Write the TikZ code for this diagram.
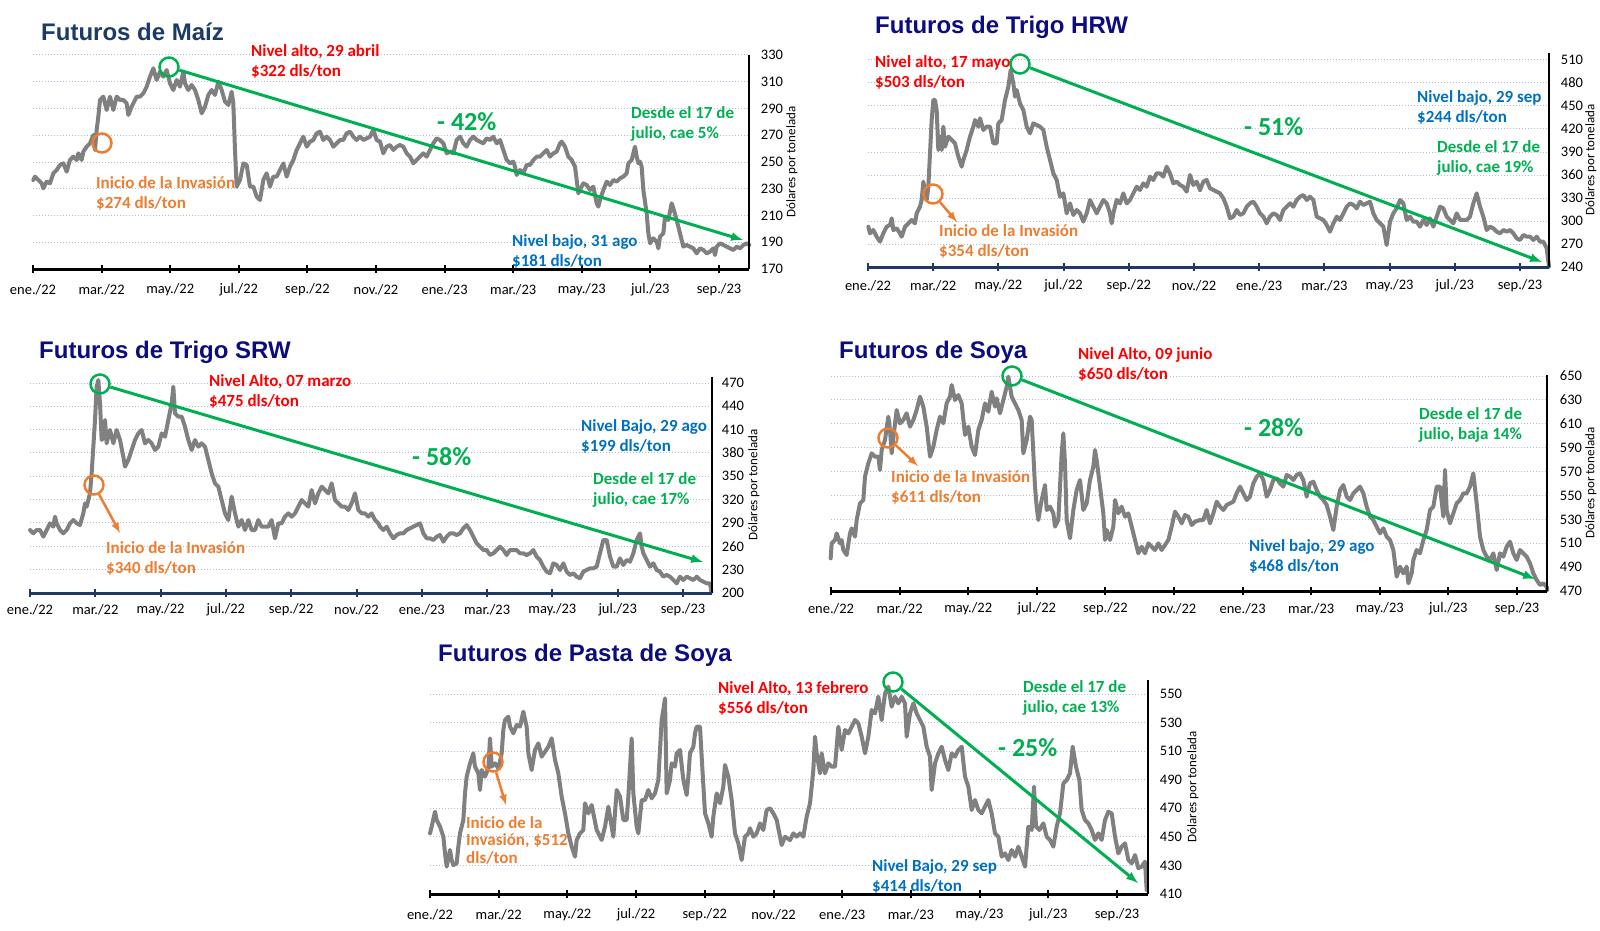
\documentclass[tikz,border=0pt]{standalone}
\usepackage{fontspec}
\setmainfont{Carlito}
\newfontfamily\titulofont{Liberation Sans}
\definecolor{rojo}{RGB}{255,0,0}
\definecolor{azul}{RGB}{0,112,192}
\definecolor{verde}{RGB}{0,176,80}
\definecolor{naranja}{RGB}{237,125,49}
\definecolor{gris}{RGB}{128,128,128}
\definecolor{rejilla}{RGB}{170,190,228}
\definecolor{marino}{RGB}{12,12,128}
\definecolor{pizarra}{RGB}{28,58,104}
\definecolor{ejeazul}{RGB}{31,56,100}
\newcommand\meses{ene./22,mar./22,may./22,jul./22,sep./22,nov./22,ene./23,mar./23,may./23,jul./23,sep./23}
\begin{document}
\begin{tikzpicture}[x=1pt, y=-1pt, >=latex,
  titulo/.style={font=\titulofont\bfseries\fontsize{24}{28}\selectfont, text=marino, anchor=west, inner sep=0},
  nota/.style={font=\bfseries\fontsize{17}{20}\selectfont, align=left, anchor=west, inner sep=0},
  pct/.style={font=\bfseries\fontsize{26}{30}\selectfont, text=verde, anchor=west, inner sep=0},
  mes/.style={font=\fontsize{14.5}{17}\selectfont, inner sep=0},
  valor/.style={font=\fontsize{14.5}{17}\selectfont, inner sep=0},
  unidad/.style={font=\fontsize{13}{15}\selectfont, rotate=90, inner sep=0},
  guia/.style={draw=rejilla, dotted, line width=1pt},
  serie/.style={draw=gris, line width=4pt, line join=round, line cap=round},
  eje/.style={line width=3pt},
  marca/.style={circle, draw, line width=2.5pt, minimum size=19pt, inner sep=0},
  tendencia/.style={draw=verde, line width=3pt, ->},
  flecha/.style={draw=naranja, line width=2.5pt, ->},
]
\useasboundingbox (0,0) rectangle (1600,931);

% maiz
\foreach \i in {0,...,7} \draw[guia] (33,55+26.75*\i) -- (749,55+26.75*\i);
\foreach \v [count=\i from 0] in {330,310,...,170}
  \node[valor] (ma-v\i) at (772,55+26.75*\i) {\v};
\foreach \m [count=\i from 0] in \meses
  \node[mes] (ma-m\i) at (33+68.6*\i,290) {\m};
\node[unidad] (ma-uni) at (792,162) {Dólares por tonelada};
\begin{scope}[scale=1/3]
\draw[serie] plot coordinates {(100,540) (105,530) (115,540) (125,550) (130,565) (140,545) (150,550) (160,520) (170,510) (180,495) (190,490) (200,515) (210,480) (220,470) (230,480) (235,460) (245,480) (250,455) (260,440) (270,430) (280,405) (285,450) (290,390) (295,350) (300,300) (310,290) (320,330) (330,290) (340,330) (350,290) (360,300) (370,300) (380,310) (385,345) (395,320) (400,310) (410,290) (420,290) (430,280) (440,260) (450,230) (460,205) (470,240) (480,215) (490,230) (500,210) (510,250) (520,270) (530,240) (540,260) (550,215) (555,250) (565,270) (575,255) (585,270) (595,300) (605,340) (615,320) (625,285) (635,270) (645,285) (655,245) (665,270) (675,305) (685,315) (695,275) (700,310) (705,450) (710,560) (720,540) (730,490) (740,495) (750,560) (760,560) (770,590) (780,600) (790,540) (800,520) (810,560) (820,530) (830,530) (840,510) (850,490) (860,530) (870,500) (880,480) (890,450) (900,430) (910,410) (920,440) (930,425) (940,420) (950,400) (960,395) (970,420) (980,410) (990,420) (1000,440) (1010,430) (1020,420) (1030,420) (1040,400) (1050,395) (1060,410) (1070,420) (1080,410) (1090,420) (1100,415) (1110,410) (1120,390) (1130,420) (1140,425)};
\end{scope}
\begin{scope}[shift={(380,0)}, scale=1/3]
\draw[serie] plot coordinates {(0,425) (10,460) (20,440) (30,435) (40,450) (50,440) (60,435) (70,440) (80,460) (90,470) (100,490) (110,480) (120,470) (130,460) (140,470) (150,450) (160,430) (170,415) (180,420) (190,430) (200,460) (210,455) (220,460) (230,420) (240,410) (250,430) (260,440) (270,420) (280,410) (290,420) (300,425) (310,430) (320,415) (330,420) (340,410) (350,430) (360,420) (370,450) (380,480) (390,490) (400,485) (405,500) (410,525) (420,510) (430,520) (440,495) (450,495) (460,480) (470,470) (480,470) (490,460) (500,450) (510,470) (520,460) (530,455) (540,430) (545,425) (555,440) (565,470) (575,480) (585,500) (590,540) (595,580) (600,570) (610,550) (620,555) (630,570) (640,560) (650,610) (655,620) (660,600) (670,570) (680,545) (690,555) (700,540) (710,545) (720,535) (730,530) (740,520) (745,490) (755,480) (765,440) (770,470) (775,490) (780,485) (785,500) (790,570) (800,640) (805,700) (810,730) (820,715) (830,725) (835,745) (840,710) (850,700) (855,650) (865,660) (875,610) (880,625) (890,660) (900,700) (910,740) (920,735) (930,740) (940,745) (950,760) (960,745) (970,750) (980,760) (990,755) (1000,745) (1005,765) (1010,740) (1020,730) (1030,735) (1040,740) (1050,745) (1060,750) (1070,740) (1080,745) (1090,735) (1100,730) (1108,735)};
\end{scope}
\draw[line width=2pt] (749,55) -- (749,269);
\draw[eje] (33,269) -- (749,269);
\foreach \i in {0,...,10} \draw[line width=2pt] (33+68.6*\i,265) -- (33+68.6*\i,273);
\node[titulo, text=pizarra] (ma-tit) at (41,32) {Futuros de Maíz};
\node[nota, text=rojo] (ma-alto) at (251,61) {Nivel alto, 29 abril\\\$322 dls/ton};
\node[nota, text=naranja] (ma-inv) at (96,193) {Inicio de la Invasión\\\$274 dls/ton};
\node[pct] (ma-pct) at (437,122) {- 42\%};
\node[nota, text=verde] (ma-desde) at (631,124) {Desde el 17 de\\julio, cae 5\%};
\node[nota, text=azul] (ma-bajo) at (512,251) {Nivel bajo, 31 ago\\\$181 dls/ton};
\node[marca, draw=verde] (ma-max) at (169,67) {};
\node[marca, draw=naranja] (ma-inicio) at (102,143) {};
\coordinate (ma-fin) at (743,240);
\draw[tendencia] (ma-max) -- (ma-fin);

% trigo hrw
\foreach \i in {0,...,8} \draw[guia] (868,60+23*\i) -- (1549,60+23*\i);
\foreach \v [count=\i from 0] in {510,480,...,240}
  \node[valor] (hrw-v\i) at (1572,60+23*\i) {\v};
\foreach \m [count=\i from 0] in \meses
  \node[mes] (hrw-m\i) at (868+65.2*\i,286) {\m};
\node[unidad] (hrw-uni) at (1591,160) {Dólares por tonelada};
\begin{scope}[shift={(820,0)}, scale=1/3]
\draw[serie] plot coordinates {(145,680) (150,700) (160,690) (170,710) (180,725) (190,700) (200,680) (210,675) (215,655) (220,690) (230,685) (240,700) (245,710) (255,680) (265,670) (275,660) (285,670) (290,640) (300,620) (305,600) (310,545) (315,575) (320,600) (325,560) (330,460) (335,360) (340,300) (345,300) (350,330) (355,450) (360,410) (365,450) (370,380) (375,440) (385,410) (395,420) (405,430) (415,470) (425,500) (430,480) (440,450) (450,410) (460,380) (465,360) (475,380) (480,355) (490,390) (500,380) (510,380) (520,430) (530,430) (535,370) (545,360) (555,300) (565,260) (572,210) (580,250) (585,290) (590,270) (600,310) (610,330) (620,380) (630,400) (640,370) (650,375) (660,380) (670,390) (680,440) (690,480) (700,520) (710,540) (720,590) (730,580) (740,640) (750,610) (760,645) (770,630) (780,640) (790,665) (800,640) (810,600) (820,620) (830,640) (840,620) (850,600) (860,610) (870,640) (875,670) (880,640) (890,600) (900,610) (910,580) (920,610) (930,600) (940,580) (950,560) (960,570) (970,550) (980,560) (990,530) (1000,540) (1010,520) (1020,520) (1030,530) (1040,500) (1050,520) (1060,550) (1070,545) (1080,555) (1090,560) (1100,575) (1110,525) (1120,555) (1130,545) (1140,570)};
\end{scope}
\begin{scope}[shift={(1190,0)}, scale=1/3]
\draw[serie] plot coordinates {(30,570) (40,545) (50,540) (60,565) (70,570) (80,575) (90,580) (100,595) (110,620) (120,655) (130,650) (140,630) (150,645) (160,640) (170,620) (180,610) (190,605) (200,620) (210,640) (220,650) (230,670) (240,650) (250,640) (260,645) (270,660) (280,630) (290,620) (300,610) (310,620) (320,600) (330,590) (340,585) (350,600) (360,590) (370,600) (380,650) (390,655) (400,660) (410,675) (420,695) (430,670) (440,650) (450,660) (460,640) (470,620) (480,610) (490,615) (500,625) (510,605) (520,615) (530,610) (540,605) (550,640) (560,660) (570,670) (580,680) (590,735) (595,700) (600,665) (610,640) (620,625) (630,600) (640,610) (650,660) (660,650) (670,665) (680,665) (690,680) (700,660) (710,675) (720,655) (730,680) (740,650) (750,620) (760,625) (770,650) (780,660) (790,670) (800,640) (810,660) (820,660) (830,660) (840,650) (850,610) (860,580) (870,620) (880,650) (890,690) (900,680) (910,685) (920,695) (930,700) (940,690) (950,695) (960,690) (970,700) (980,715) (990,720) (1000,705) (1010,710) (1020,710) (1030,720) (1040,710) (1050,725) (1060,725) (1070,745) (1077,800)};
\end{scope}
\draw[line width=2pt] (1549,53) -- (1549,267);
\draw[eje, ejeazul] (868,267) -- (1549,267);
\foreach \i in {0,...,10} \draw[line width=2pt, ejeazul] (868+65.2*\i,263) -- (868+65.2*\i,271);
\node[titulo] (hrw-tit) at (875,27) {Futuros de Trigo HRW};
\node[nota, text=rojo] (hrw-alto) at (875,72) {Nivel alto, 17 mayo\\\$503 dls/ton};
\node[nota, text=naranja] (hrw-inv) at (939,241) {Inicio de la Invasión\\\$354 dls/ton};
\node[pct] (hrw-pct) at (1244,127) {- 51\%};
\node[nota, text=azul] (hrw-bajo) at (1417,107) {Nivel bajo, 29 sep\\\$244 dls/ton};
\node[nota, text=verde] (hrw-desde) at (1437,158) {Desde el 17 de\\julio, cae 19\%};
\node[marca, draw=verde] (hrw-max) at (1020,64) {};
\node[marca, draw=naranja] (hrw-inicio) at (933,194) {};
\coordinate (hrw-fin) at (1542,262);
\coordinate (hrw-punta) at (957,222);
\draw[tendencia] (hrw-max) -- (hrw-fin);
\draw[flecha] (hrw-inicio) -- (hrw-punta);

% trigo srw
\foreach \i in {0,...,8} \draw[guia] (30,383+23.33*\i) -- (712,383+23.33*\i);
\foreach \v [count=\i from 0] in {470,440,...,200}
  \node[valor] (srw-v\i) at (733,383+23.33*\i) {\v};
\foreach \m [count=\i from 0] in \meses
  \node[mes] (srw-m\i) at (30+65.3*\i,610) {\m};
\node[unidad] (srw-uni) at (754,485) {Dólares por tonelada};
\begin{scope}[shift={(0,320)}, scale=1/3]
\draw[serie] plot coordinates {(90,630) (100,640) (110,630) (120,630) (130,650) (140,630) (150,610) (160,620) (165,590) (170,610) (180,630) (190,640) (200,630) (210,610) (220,600) (230,610) (240,615) (250,580) (255,550) (260,560) (265,540) (270,520) (275,460) (280,380) (285,300) (290,200) (295,180) (300,250) (305,360) (310,350) (315,300) (320,370) (330,330) (340,370) (350,330) (360,360) (370,410) (375,440) (385,420) (395,390) (405,360) (415,340) (425,330) (435,370) (445,360) (455,370) (465,390) (475,380) (485,340) (495,350) (505,300) (515,250) (520,200) (525,280) (535,290) (545,290) (555,320) (565,360) (575,390) (585,360) (595,380) (605,370) (615,380) (625,420) (635,460) (645,490) (655,500) (665,540) (675,580) (685,600) (695,530) (705,580) (715,620) (725,600) (735,630) (745,600) (755,630) (765,630) (775,600) (785,620) (795,620) (805,620) (815,600) (825,655) (835,610) (845,610) (855,590) (865,580) (875,590) (885,580) (895,560) (905,540) (915,550) (925,560) (935,510) (945,550) (955,520) (965,500) (975,510) (985,520) (995,490) (1005,540) (1015,550) (1025,560) (1035,560) (1045,570) (1055,550) (1065,520) (1075,570) (1085,580) (1095,580) (1105,590) (1115,580) (1125,600) (1135,610) (1140,620)};
\end{scope}
\begin{scope}[shift={(370,320)}, scale=1/3]
\draw[serie] plot coordinates {(30,620) (40,630) (50,620) (60,640) (70,655) (80,645) (90,640) (100,640) (110,630) (120,625) (130,620) (140,615) (150,610) (160,640) (170,655) (180,655) (190,660) (200,650) (210,645) (220,665) (230,650) (240,640) (250,640) (260,645) (270,640) (280,625) (290,615) (300,630) (310,650) (320,670) (330,680) (340,690) (350,690) (360,705) (370,700) (380,690) (390,680) (400,690) (410,705) (420,690) (430,690) (440,690) (450,700) (460,700) (470,705) (480,700) (490,690) (500,710) (510,720) (520,740) (530,755) (540,760) (550,730) (560,735) (570,750) (580,730) (590,755) (600,765) (610,760) (620,770) (630,775) (640,755) (650,750) (660,745) (670,745) (680,740) (690,700) (700,660) (710,660) (720,710) (730,740) (740,740) (750,715) (760,735) (770,720) (780,725) (790,700) (800,660) (810,640) (815,680) (820,700) (830,720) (840,740) (850,730) (860,750) (870,755) (880,770) (890,765) (900,770) (910,780) (920,790) (930,770) (940,780) (950,770) (960,775) (970,780) (980,770) (990,780) (1000,785) (1010,790) (1020,790) (1024,815)};
\end{scope}
\draw[line width=2pt] (712,377) -- (712,593);
\draw[eje, ejeazul] (30,593) -- (712,593);
\foreach \i in {0,...,10} \draw[line width=2pt, ejeazul] (30+65.3*\i,589) -- (30+65.3*\i,597);
\node[titulo] (srw-tit) at (39,352) {Futuros de Trigo SRW};
\node[nota, text=rojo] (srw-alto) at (209,391) {Nivel Alto, 07 marzo\\\$475 dls/ton};
\node[nota, text=naranja] (srw-inv) at (106,558) {Inicio de la Invasión\\\$340 dls/ton};
\node[pct] (srw-pct) at (412,457) {- 58\%};
\node[nota, text=azul] (srw-bajo) at (581,436) {Nivel Bajo, 29 ago\\\$199 dls/ton};
\node[nota, text=verde] (srw-desde) at (593,490) {Desde el 17 de\\julio, cae 17\%};
\node[marca, draw=verde] (srw-max) at (100,384) {};
\node[marca, draw=naranja] (srw-inicio) at (94,485) {};
\coordinate (srw-fin) at (703,562);
\coordinate (srw-punta) at (120,533);
\draw[tendencia] (srw-max) -- (srw-fin);
\draw[flecha] (srw-inicio) -- (srw-punta);

% soya
\foreach \i in {0,...,7} \draw[guia] (831,376+23.9*\i) -- (1547,376+23.9*\i);
\foreach \v [count=\i from 0] in {650,630,...,470}
  \node[valor] (soy-v\i) at (1571,376+23.9*\i) {\v};
\foreach \m [count=\i from 0] in \meses
  \node[mes] (soy-m\i) at (831+68.6*\i,609) {\m};
\node[unidad] (soy-uni) at (1591,483) {Dólares por tonelada};
\begin{scope}[shift={(800,320)}, scale=1/3]
\draw[serie] plot coordinates {(92,715) (95,670) (105,660) (110,640) (120,670) (125,660) (130,690) (140,705) (150,640) (155,625) (165,650) (170,600) (180,550) (190,540) (195,470) (205,430) (215,400) (225,410) (235,410) (240,450) (245,390) (255,360) (265,290) (270,330) (275,400) (285,310) (290,270) (300,310) (310,300) (320,280) (330,320) (340,300) (350,270) (360,230) (370,260) (380,320) (390,410) (400,380) (410,330) (420,290) (430,310) (440,250) (450,230) (455,195) (465,240) (475,225) (485,250) (495,345) (505,320) (515,380) (525,405) (535,330) (545,300) (555,250) (565,275) (575,215) (585,260) (590,235) (600,280) (610,240) (620,200) (625,170) (635,230) (645,250) (655,270) (665,300) (670,400) (680,360) (690,290) (695,300) (700,400) (705,500) (710,560) (715,600) (725,540) (735,495) (740,570) (750,560) (760,580) (765,620) (775,600) (785,400) (790,340) (795,430) (800,600) (810,655) (820,570) (830,510) (840,480) (850,570) (860,550) (870,480) (880,440) (885,390) (890,420) (900,500) (910,580) (915,660) (920,630) (930,660) (940,620) (945,540) (955,580) (965,560) (975,590) (985,580) (995,620) (1005,660) (1015,700) (1025,680) (1035,700) (1045,670) (1055,680) (1065,690) (1075,670) (1085,690) (1095,675) (1105,660) (1115,620) (1125,575) (1135,590) (1145,610) (1155,585) (1165,590) (1175,615) (1185,605) (1200,600)};
\end{scope}
\begin{scope}[shift={(1190,320)}, scale=1/3]
\draw[serie] plot coordinates {(30,600) (40,600) (50,570) (60,610) (70,580) (80,545) (90,560) (100,570) (110,555) (120,550) (130,545) (140,520) (150,500) (160,520) (170,540) (180,530) (190,490) (200,470) (210,460) (220,480) (230,530) (240,510) (250,480) (260,475) (270,490) (280,500) (290,465) (300,470) (310,480) (320,465) (330,460) (340,480) (350,530) (360,490) (370,485) (380,510) (390,530) (400,540) (410,555) (420,590) (430,630) (440,560) (450,510) (460,495) (470,530) (480,540) (490,520) (500,510) (510,500) (520,520) (530,560) (540,590) (550,600) (560,620) (570,640) (580,625) (590,650) (600,660) (610,690) (620,770) (630,740) (640,760) (650,740) (655,790) (665,760) (670,720) (680,690) (690,700) (700,660) (710,630) (720,570) (730,560) (740,500) (750,500) (760,590) (765,450) (770,570) (780,610) (790,580) (800,550) (810,540) (820,520) (830,520) (840,500) (850,460) (860,550) (870,650) (880,690) (890,710) (900,720) (910,700) (920,750) (930,700) (940,710) (950,680) (960,665) (970,700) (980,720) (990,690) (1000,700) (1010,710) (1020,730) (1030,760) (1040,780) (1050,795) (1060,790) (1070,800) (1072,810)};
\end{scope}
\draw[line width=2pt] (1547,375) -- (1547,591);
\draw[eje] (831,591) -- (1547,591);
\foreach \i in {0,...,10} \draw[line width=2pt] (831+68.6*\i,587) -- (831+68.6*\i,595);
\node[titulo] (soy-tit) at (839,352) {Futuros de Soya};
\node[nota, text=rojo] (soy-alto) at (1078,364) {Nivel Alto, 09 junio\\\$650 dls/ton};
\node[nota, text=naranja] (soy-inv) at (891,487) {Inicio de la Invasión\\\$611 dls/ton};
\node[pct] (soy-pct) at (1244,428) {- 28\%};
\node[nota, text=verde] (soy-desde) at (1419,425) {Desde el 17 de\\julio, baja 14\%};
\node[nota, text=azul] (soy-bajo) at (1249,556) {Nivel bajo, 29 ago\\\$468 dls/ton};
\node[marca, draw=verde] (soy-max) at (1012,376) {};
\node[marca, draw=naranja] (soy-inicio) at (888,438) {};
\coordinate (soy-fin) at (1535,579);
\coordinate (soy-punta) at (918,466);
\draw[tendencia] (soy-max) -- (soy-fin);
\draw[flecha] (soy-inicio) -- (soy-punta);

% pasta de soya
\foreach \i in {0,...,6} \draw[guia] (430,694+28.57*\i) -- (1148,694+28.57*\i);
\foreach \v [count=\i from 0] in {550,530,...,410}
  \node[valor] (pas-v\i) at (1171,694+28.57*\i) {\v};
\foreach \m [count=\i from 0] in \meses
  \node[mes] (pas-m\i) at (430+68.7*\i,915) {\m};
\node[unidad] (pas-uni) at (1193,787) {Dólares por tonelada};
\begin{scope}[shift={(390,620)}, scale=1/3]
\draw[serie] plot coordinates {(120,640) (125,620) (135,575) (140,600) (150,620) (160,650) (165,700) (170,740) (180,690) (185,720) (190,735) (200,730) (205,680) (210,640) (220,600) (225,520) (230,470) (240,430) (250,400) (255,440) (265,460) (270,510) (275,450) (285,470) (295,445) (300,355) (305,440) (315,430) (325,445) (335,400) (340,330) (345,300) (355,290) (360,320) (370,340) (380,315) (390,320) (400,275) (410,320) (415,400) (425,450) (435,390) (445,370) (455,410) (465,395) (475,380) (485,355) (495,420) (505,460) (515,530) (525,580) (535,640) (545,680) (555,710) (560,660) (570,640) (580,630) (585,550) (595,580) (605,555) (610,580) (620,630) (630,650) (635,660) (645,620) (655,560) (660,590) (670,650) (680,510) (690,530) (700,600) (710,600) (715,530) (725,355) (730,520) (740,620) (745,640) (755,540) (765,540) (775,510) (785,535) (795,520) (805,480) (815,300) (820,270) (825,235) (830,520) (840,480) (845,430) (855,440) (860,400) (870,390) (880,480) (890,525) (895,470) (900,400) (910,380) (915,340) (920,320) (930,320) (935,410) (945,580) (955,610) (965,650) (970,590) (980,520) (990,550) (1000,500) (1005,435) (1015,470) (1025,540) (1035,640) (1045,670) (1055,720) (1065,650) (1075,640) (1080,625) (1090,650) (1100,640) (1110,610) (1120,630) (1130,570) (1140,565) (1150,580) (1160,600) (1165,625) (1175,675) (1185,650) (1200,660)};
\end{scope}
\begin{scope}[shift={(780,620)}, scale=1/3]
\draw[serie] plot coordinates {(30,660) (40,640) (50,650) (60,640) (70,650) (80,590) (90,550) (100,450) (105,350) (110,400) (120,460) (125,400) (135,460) (145,430) (155,440) (165,440) (175,320) (185,390) (195,330) (205,340) (215,320) (225,300) (235,310) (245,350) (255,400) (265,350) (275,270) (285,280) (295,230) (305,300) (315,220) (325,200) (335,260) (345,230) (355,250) (365,230) (375,250) (380,350) (390,280) (400,250) (410,280) (420,300) (430,320) (440,380) (450,410) (455,510) (465,430) (475,400) (485,380) (495,420) (505,450) (515,400) (525,410) (535,390) (545,380) (555,470) (565,500) (575,570) (585,540) (595,570) (605,580) (615,560) (625,540) (635,580) (645,640) (655,650) (665,710) (675,700) (685,720) (695,690) (705,710) (715,680) (725,710) (735,740) (745,620) (755,630) (762,500) (768,620) (778,630) (790,610) (800,650) (810,660) (820,680) (830,620) (840,580) (850,490) (860,480) (870,460) (878,380) (888,440) (898,480) (905,570) (915,600) (925,610) (935,630) (945,660) (955,640) (965,660) (975,600) (985,575) (995,580) (1005,650) (1015,700) (1025,680) (1035,670) (1045,720) (1055,730) (1065,705) (1075,745) (1085,740) (1095,725) (1100,810)};
\end{scope}
\draw[line width=2pt] (1148,680) -- (1148,894);
\draw[eje] (430,894) -- (1148,894);
\foreach \i in {0,...,10} \draw[line width=2pt] (430+68.7*\i,890) -- (430+68.7*\i,898);
\node[titulo] (pas-tit) at (438,655) {Futuros de Pasta de Soya};
\node[nota, text=rojo] (pas-alto) at (718,698) {Nivel Alto, 13 febrero\\\$556 dls/ton};
\node[nota, text=naranja, font=\bfseries\fontsize{17}{17.5}\selectfont] (pas-inv) at (466,840) {Inicio de la\\Invasión, \$512\\dls/ton};
\node[pct] (pas-pct) at (998,748) {- 25\%};
\node[nota, text=verde] (pas-desde) at (1023,698) {Desde el 17 de\\julio, cae 13\%};
\node[nota, text=azul] (pas-bajo) at (872,876) {Nivel Bajo, 29 sep\\\$414 dls/ton};
\node[marca, draw=verde] (pas-max) at (893,682) {};
\node[marca, draw=naranja] (pas-inicio) at (493,762) {};
\coordinate (pas-fin) at (1138,883);
\coordinate (pas-punta) at (506,805);
\draw[tendencia] (pas-max) -- (pas-fin);
\draw[flecha] (pas-inicio) -- (pas-punta);
\end{tikzpicture}
\end{document}
